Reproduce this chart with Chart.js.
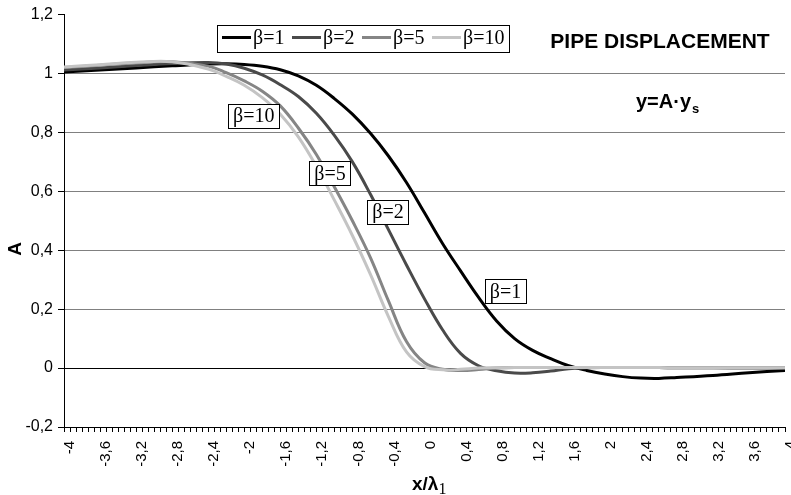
<!DOCTYPE html>
<html>
<head>
<meta charset="utf-8">
<script src="https://cdn.jsdelivr.net/npm/chart.js@4.4.1/dist/chart.umd.min.js"></script>
<style>
  html, body { margin: 0; padding: 0; background: #fff; }
  canvas { display: block; }
</style>
</head>
<body>
<canvas id="pipeChart" width="791" height="495"></canvas>
<script>
// x / lambda_1 sample positions
const xs = [-4, -3.6, -3.2, -2.8, -2.4, -2.2, -2.0, -1.8, -1.6, -1.4, -1.2, -1.0, -0.8, -0.6, -0.4, -0.2,
            0, 0.2, 0.4, 0.6, 0.8, 1.0, 1.2, 1.4, 1.6, 1.8, 2.0, 2.2, 2.4, 2.6, 2.8, 3.2, 3.6, 4.0];

// displacement factor A for each beta
const beta1 = [1.005, 1.012, 1.019, 1.026, 1.032, 1.033, 1.031, 1.025, 1.013, 0.992, 0.96, 0.915, 0.862, 0.797, 0.72, 0.63,
               0.527, 0.423, 0.33, 0.24, 0.16, 0.1, 0.06, 0.032, 0.008, -0.008, -0.02, -0.029, -0.034, -0.035, -0.032, -0.025, -0.016, -0.008];
const beta2 = [1.012, 1.019, 1.027, 1.034, 1.037, 1.032, 1.018, 0.995, 0.962, 0.922, 0.865, 0.79, 0.7, 0.59, 0.47, 0.35,
               0.235, 0.13, 0.05, 0.008, -0.009, -0.017, -0.016, -0.01, -0.002, 0.001, 0.002, 0.002, 0.002, 0.002, 0.001, 0.001, 0, 0];
const beta5 = [1.02, 1.028, 1.036, 1.04, 1.025, 1.003, 0.975, 0.94, 0.89, 0.815, 0.725, 0.615, 0.5, 0.375, 0.228, 0.09,
               0.018, -0.004, -0.008, -0.005, 0, 0.002, 0.002, 0.002, 0.002, 0.002, 0.002, 0.002, 0.002, 0.002, 0.001, 0.001, 0.001, 0.001];
const beta10 = [1.022, 1.03, 1.038, 1.04, 1.015, 0.99, 0.96, 0.918, 0.862, 0.785, 0.685, 0.57, 0.45, 0.318, 0.175, 0.055,
                0.005, -0.006, -0.004, 0, 0.001, 0.002, 0.002, 0.002, 0.002, 0.002, 0.002, 0.002, 0.002, 0.002, 0.001, 0.001, 0.001, 0.001];

const seriesNames = ['β=1', 'β=2', 'β=5', 'β=10'];

// axis ticks: a mark every 1/15, a label every 0.4
const xTickValues = [];
for (let i = 0; i <= 120; i++) xTickValues.push(Math.round((-4 + i / 15) * 1e6) / 1e6);
const yTickValues = [-0.2, 0, 0.2, 0.4, 0.6, 0.8, 1, 1.2];

const SANS = '"Liberation Sans", Arial, sans-serif';
const SERIF = '"Liberation Serif", "Times New Roman", serif';

function fmt(v) {
	return String(Math.round(v * 10) / 10).replace('.', ',');
}

function toPoints(ys) {
	return xs.map((x, i) => ({ x: x, y: ys[i] }));
}

// boxed curve labels, placed in data units
const curveLabels = [
	{ text: 'β=10', x: -1.894, y: 0.855 },
	{ text: 'β=5', x: -1.049, y: 0.661 },
	{ text: 'β=2', x: -0.405, y: 0.530 },
	{ text: 'β=1', x: 0.899, y: 0.260 }
];

const decorations = {
	id: 'decorations',
	afterDatasetsDraw(chart) {
		const ctx = chart.ctx;
		const area = chart.chartArea;
		const sx = chart.scales.x, sy = chart.scales.y;
		ctx.save();

		// labels on the curves
		ctx.font = '20px ' + SERIF;
		ctx.textBaseline = 'middle';
		ctx.textAlign = 'center';
		ctx.lineWidth = 1;
		curveLabels.forEach(l => {
			const cx = sx.getPixelForValue(l.x);
			const cy = sy.getPixelForValue(l.y);
			const w = Math.round(ctx.measureText(l.text).width + 10);
			const h = 24;
			const left = Math.round(cx - w / 2) + 0.5;
			const top = Math.round(cy - h / 2) + 0.5;
			ctx.fillStyle = '#fff';
			ctx.fillRect(left, top, w, h);
			ctx.strokeStyle = '#000';
			ctx.strokeRect(left, top, w, h);
			ctx.fillStyle = '#000';
			ctx.fillText(l.text, cx, cy + 1);
		});

		// legend
		const lx = 217.5, ly = 25.5, lw = 292, lh = 27;
		ctx.fillStyle = '#fff';
		ctx.fillRect(lx, ly, lw, lh);
		ctx.strokeStyle = '#000';
		ctx.strokeRect(lx, ly, lw, lh);
		ctx.textAlign = 'left';
		chart.data.datasets.forEach((ds, i) => {
			const x0 = lx + 4.5 + i * 70;
			ctx.strokeStyle = ds.borderColor;
			ctx.lineWidth = 3;
			ctx.beginPath();
			ctx.moveTo(x0, ly + 12);
			ctx.lineTo(x0 + 29, ly + 12);
			ctx.stroke();
			ctx.fillStyle = '#000';
			ctx.fillText(ds.label, x0 + 31, ly + 13.5);
		});

		// headings
		ctx.fillStyle = '#000';
		ctx.textAlign = 'center';
		ctx.textBaseline = 'alphabetic';
		ctx.font = 'bold 21px ' + SANS;
		ctx.fillText('PIPE DISPLACEMENT', 660, 48);

		ctx.textAlign = 'left';
		ctx.font = 'bold 20px ' + SANS;
		const main = 'y=A·y';
		const mw = ctx.measureText(main).width;
		const mx = 668 - (mw + 9) / 2;
		ctx.fillText(main, mx, 108);
		ctx.font = 'bold 13px ' + SANS;
		ctx.fillText('s', mx + mw + 1, 113);

		// axis titles
		ctx.font = 'bold 19px ' + SANS;
		ctx.fillText('x/λ', 412, 490);
		const tw = ctx.measureText('x/λ').width;
		ctx.font = '16px ' + SERIF;
		ctx.fillText('1', 412 + tw, 494);

		ctx.save();
		ctx.translate(21, (area.top + area.bottom) / 2 + 28);
		ctx.rotate(-Math.PI / 2);
		ctx.textAlign = 'center';
		ctx.font = 'bold 19px ' + SANS;
		ctx.fillText('A', 0, 0);
		ctx.restore();

		ctx.restore();
	}
};

const colors = ['#000000', '#4a4a4a', '#858585', '#c4c4c4'];
const series = [beta1, beta2, beta5, beta10];

new Chart(document.getElementById('pipeChart').getContext('2d'), {
	type: 'line',
	data: {
		datasets: series.map((ys, i) => ({
			label: seriesNames[i],
			data: toPoints(ys),
			borderColor: colors[i],
			backgroundColor: 'transparent',
			borderWidth: 3,
			pointRadius: 0,
			tension: 0.4,
			order: 4 - i
		}))
	},
	options: {
		responsive: false,
		animation: false,
		layout: { padding: { top: 12, right: 6, left: 0, bottom: 0 } },
		plugins: {
			legend: { display: false },
			tooltip: { enabled: false }
		},
		scales: {
			x: {
				type: 'linear',
				min: -4,
				max: 4,
				afterBuildTicks: (scale) => {
					scale.ticks = xTickValues.map(v => ({ value: v }));
				},
				afterFit: (scale) => {
					scale.height = 68;
					scale.paddingLeft = 0;
					scale.paddingRight = 0;
				},
				ticks: {
					autoSkip: false,
					minRotation: 90,
					maxRotation: 90,
					padding: 9,
					labelOffset: 6,
					color: '#000',
					font: { family: SANS, size: 15 },
					callback: (v, i) => (i % 6 === 0 ? fmt(v) : '')
				},
				grid: {
					drawOnChartArea: false,
					drawTicks: true,
					tickLength: 5,
					color: '#000'
				},
				border: { color: '#000', width: 1 }
			},
			y: {
				min: -0.2,
				max: 1.2,
				afterBuildTicks: (scale) => {
					scale.ticks = yTickValues.map(v => ({ value: v }));
				},
				afterFit: (scale) => {
					scale.width = 64;
				},
				ticks: {
					color: '#000',
					padding: 5,
					font: { family: SANS, size: 16 },
					callback: (v) => fmt(v)
				},
				grid: {
					color: (c) => {
						const v = c.tick ? c.tick.value : null;
						if (v === 1.2) return 'rgba(0,0,0,0)';
						if (v === 0 || v === -0.2) return '#000';
						return '#808080';
					},
					tickColor: '#000',
					tickLength: 6,
					lineWidth: 1
				},
				border: { color: '#000', width: 1 }
			}
		}
	},
	plugins: [decorations]
});
</script>
</body>
</html>
